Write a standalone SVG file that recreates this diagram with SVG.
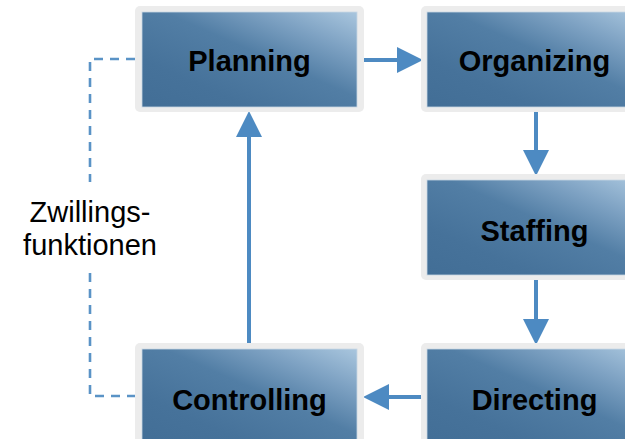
<svg xmlns="http://www.w3.org/2000/svg" width="625" height="439" viewBox="0 0 625 439">
  <style>
    .frame { fill: #ececec; }
    .box { fill: url(#boxFill); stroke: #c9d7e4; stroke-width: 0.8; }
    .label { font-family: "Liberation Sans", Arial, sans-serif; font-weight: bold; font-size: 29px; fill: #000; text-anchor: middle; }
    .note { font-family: "Liberation Sans", Arial, sans-serif; font-size: 29px; fill: #000; text-anchor: middle; }
    .flow { fill: none; stroke: #4d8ac2; stroke-width: 4; marker-end: url(#head); }
    .twin { fill: none; stroke: #5a93c6; stroke-width: 2.6; stroke-dasharray: 9 7; }
  </style>
  <defs>
    <linearGradient id="boxFill" x1="1" y1="0" x2="0" y2="1">
      <stop offset="0" stop-color="#a9c6de"/>
      <stop offset="0.22" stop-color="#7ea2c3"/>
      <stop offset="0.45" stop-color="#527ea5"/>
      <stop offset="0.75" stop-color="#46729a"/>
      <stop offset="1" stop-color="#426e96"/>
    </linearGradient>
    <marker id="head" markerUnits="userSpaceOnUse" markerWidth="26" markerHeight="26" refX="0" refY="13" orient="auto" viewBox="0 0 26 26">
      <path d="M0,0 L26,13 L0,26 Z" fill="#4d8ac2"/>
    </marker>
  </defs>

  <g id="connectors">
    <path class="flow" d="M364,60 H397"/>
    <path class="flow" d="M536,112 V150"/>
    <path class="flow" d="M536,280 V319"/>
    <path class="flow" d="M421,397 H389"/>
    <path class="flow" d="M249,343 V137"/>
    <path class="twin" d="M135,59 H90 V182"/>
    <path class="twin" d="M90,273 V396 H135"/>
  </g>

  <g id="planning">
    <rect class="frame" x="135" y="6" width="229" height="106" rx="5"/>
    <rect class="box" x="142" y="12" width="215" height="95"/>
    <text class="label" x="249.5" y="71">Planning</text>
  </g>

  <g id="organizing">
    <rect class="frame" x="421" y="6" width="229" height="106" rx="5"/>
    <rect class="box" x="427" y="12" width="215" height="95"/>
    <text class="label" x="534.5" y="71">Organizing</text>
  </g>

  <g id="staffing">
    <rect class="frame" x="421" y="174" width="229" height="106" rx="5"/>
    <rect class="box" x="427" y="180" width="215" height="95"/>
    <text class="label" x="534.5" y="241">Staffing</text>
  </g>

  <g id="directing">
    <rect class="frame" x="421" y="343" width="229" height="106" rx="5"/>
    <rect class="box" x="427" y="349" width="215" height="95"/>
    <text class="label" x="534.5" y="410">Directing</text>
  </g>

  <g id="controlling">
    <rect class="frame" x="135" y="343" width="229" height="106" rx="5"/>
    <rect class="box" x="142" y="349" width="215" height="95"/>
    <text class="label" x="249.5" y="410">Controlling</text>
  </g>

  <g id="twin-functions">
    <text class="note" x="90" y="222">Zwillings-</text>
    <text class="note" x="90" y="255">funktionen</text>
  </g>
</svg>
